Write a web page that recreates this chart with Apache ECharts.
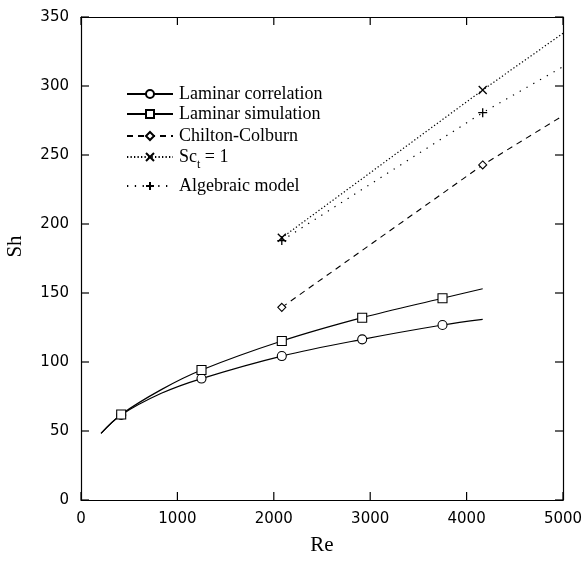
<!DOCTYPE html>
<html><head><meta charset="utf-8">
<script src="https://cdn.jsdelivr.net/npm/echarts@6/dist/echarts.min.js"></script>
<style>html,body{margin:0;padding:0;background:#fff}#c{width:584px;height:567px}</style>
</head><body><div id="c"></div>
<script>
// Re values and Sh values
var corrRe   = [208, 417, 833, 1250, 2083, 2917, 3750, 4167];
var corrSh   = [48.3, 61.6, 77.3, 88.0, 104.3, 116.4, 126.8, 130.9];
var corrMark = [false, true, false, true, true, true, true, false];

var simRe    = [208, 417, 833, 1250, 2083, 2917, 3750, 4167];
var simSh    = [48.3, 62.0, 80.0, 94.2, 115.2, 132.1, 146.2, 153.1];
var simMark  = [false, true, false, true, true, true, true, false];

var ccRe     = [2083, 4167, 5000];
var ccSh     = [139.6, 242.8, 278.5];
var ccMark   = [true, true, false];

var sctRe    = [2083, 4167, 5000];
var sctSh    = [190.0, 297.1, 338.2];
var sctMark  = [true, true, false];

var algRe    = [2083, 4167, 5000];
var algSh    = [188.0, 280.7, 314.0];
var algMark  = [true, true, false];

var xTicks = [0, 1000, 2000, 3000, 4000, 5000];
var yTicks = [0, 50, 100, 150, 200, 250, 300, 350];

var names = ['Laminar correlation', 'Laminar simulation', 'Chilton-Colburn', 'Sct = 1', 'Algebraic model'];

var xMin = xTicks[0], xMax = xTicks[xTicks.length - 1];
var yMin = yTicks[0], yMax = yTicks[yTicks.length - 1];

function pts(xs, ys, marks) {
  return xs.map(function (x, i) {
    var d = { value: [x, ys[i]] };
    if (!marks[i]) d.symbol = 'none';
    return d;
  });
}

var crossPath = 'path://M0,0L10,10M10,0L0,10';
var plusPath = 'path://M5,0L5,10M0,5L10,5';

function mkSeries(name, data, symbol, size, lineType, smooth, width) {
  return {
    name: name, type: 'line', data: data, symbol: symbol, symbolSize: size,
    smooth: smooth, showAllSymbol: true, z: 3,
    lineStyle: { color: '#000', width: width, type: lineType },
    itemStyle: symbol.indexOf('path') === 0 ? { color: 'none', borderColor: '#000', borderWidth: 1.3 } : { color: '#fff', borderColor: '#000', borderWidth: 1.1 },
    emphasis: { disabled: true }, animation: false
  };
}

var TICK = 8;
var tickStyle = { stroke: '#000', lineWidth: 1.2 };

var series = [
  mkSeries(names[0], pts(corrRe, corrSh, corrMark), 'circle', 9, 'solid', 0.35, 1.2),
  mkSeries(names[1], pts(simRe, simSh, simMark), 'rect', 9, 'solid', 0.35, 1.2),
  mkSeries(names[2], pts(ccRe, ccSh, ccMark), 'diamond', 8, [6, 5], false, 1.1),
  mkSeries(names[3], pts(sctRe, sctSh, sctMark), crossPath, 8, [1.3, 2.2], false, 1.2),
  mkSeries(names[4], pts(algRe, algSh, algMark), plusPath, 9, [1.3, 6.5], false, 1.2),
  {
    type: 'custom', name: 'xticks', clip: false, silent: true, z: 5,
    data: xTicks.map(function (v) { return [v, yMin]; }),
    renderItem: function (params, api) {
      var b = api.coord([api.value(0), yMin]);
      var t = api.coord([api.value(0), yMax]);
      return { type: 'group', children: [
        { type: 'line', shape: { x1: b[0], y1: b[1], x2: b[0], y2: b[1] - TICK }, style: tickStyle },
        { type: 'line', shape: { x1: t[0], y1: t[1], x2: t[0], y2: t[1] + TICK }, style: tickStyle }
      ] };
    }
  },
  {
    type: 'custom', name: 'yticks', clip: false, silent: true, z: 5,
    data: yTicks.map(function (v) { return [xMin, v]; }),
    renderItem: function (params, api) {
      var l = api.coord([xMin, api.value(1)]);
      var r = api.coord([xMax, api.value(1)]);
      return { type: 'group', children: [
        { type: 'line', shape: { x1: l[0], y1: l[1], x2: l[0] + TICK, y2: l[1] }, style: tickStyle },
        { type: 'line', shape: { x1: r[0], y1: r[1], x2: r[0] - TICK, y2: r[1] }, style: tickStyle }
      ] };
    }
  }
];

var legendTops = [85, 105, 127, 148, 177];
var legends = names.map(function (n, i) {
  return {
    data: [n], left: 126, top: legendTops[i], orient: 'vertical', padding: 0,
    itemWidth: 46, itemHeight: 10, itemGap: 4, selectedMode: false,
    textStyle: {
      fontFamily: 'Liberation Serif', fontSize: 18, color: '#000', padding: [0, 0, 0, 1],
      rich: { sub: { fontFamily: 'Liberation Serif', fontSize: 12, verticalAlign: 'bottom', padding: [16, 0, 0, 0] },
              n: { fontFamily: 'Liberation Serif', fontSize: 18 } }
    },
    formatter: function (name) {
      if (name === 'Sct = 1') return '{n|Sc}{sub|t}{n| = 1}';
      return name;
    }
  };
});

function axLine() { return { show: true, onZero: false, lineStyle: { color: '#000', width: 1.2 } }; }
function axLabel() { return { margin: 12, fontFamily: 'DejaVu Sans', fontSize: 15, color: '#000', formatter: function (v) { return String(v); } }; }

var option = {
  backgroundColor: '#fff',
  animation: false,
  grid: { left: 81, right: 21, top: 17, bottom: 67, containLabel: false, outerBoundsMode: 'none' },
  legend: legends,
  xAxis: [{
    type: 'value', position: 'bottom', min: xMin, max: xMax, interval: 1000,
    axisLine: axLine(), axisTick: { show: false }, splitLine: { show: false },
    axisLabel: axLabel(),
    name: 'Re', nameLocation: 'middle', nameGap: 35,
    nameTextStyle: { fontFamily: 'Liberation Serif', fontSize: 21, color: '#000' }
  }, {
    type: 'value', position: 'top', min: xMin, max: xMax, interval: 1000,
    axisLine: axLine(), axisTick: { show: false }, axisLabel: { show: false }, splitLine: { show: false }
  }],
  yAxis: [{
    type: 'value', position: 'left', min: yMin, max: yMax, interval: 50,
    axisLine: axLine(), axisTick: { show: false }, splitLine: { show: false },
    axisLabel: axLabel(),
    name: 'Sh', nameLocation: 'middle', nameGap: 55, nameRotate: 90,
    nameTextStyle: { fontFamily: 'Liberation Serif', fontSize: 21, color: '#000', padding: [0, 0, 0, 24] }
  }, {
    type: 'value', position: 'right', min: yMin, max: yMax, interval: 50,
    axisLine: axLine(), axisTick: { show: false }, axisLabel: { show: false }, splitLine: { show: false }
  }],
  series: series
};

var chart = echarts.init(document.getElementById('c'), null, { renderer: 'canvas' });
chart.setOption(option);
</script>
</body></html>
